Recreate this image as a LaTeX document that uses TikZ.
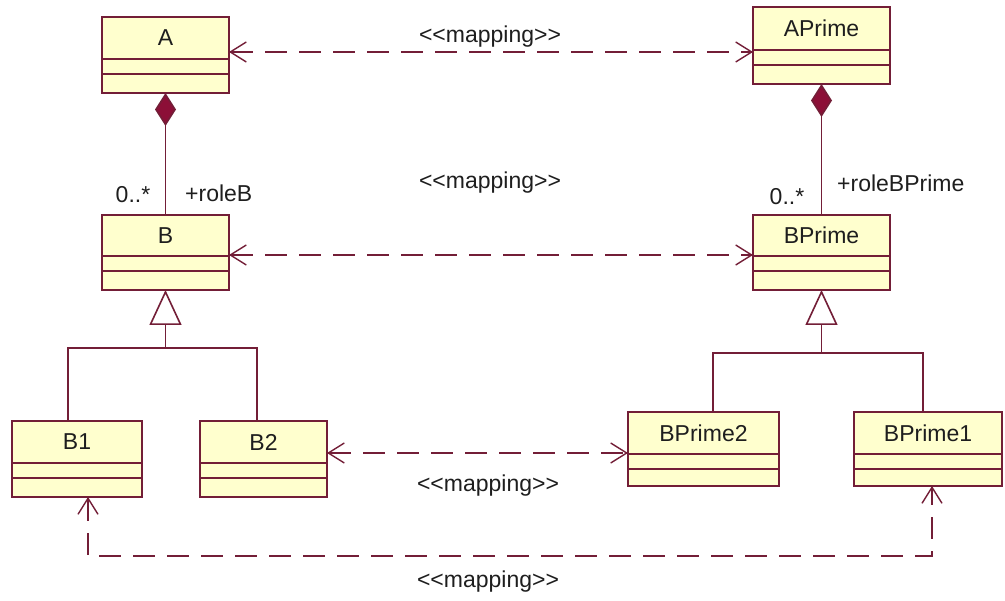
\documentclass[tikz,border=0pt]{standalone}
\usepackage{fontspec}
\setmainfont{Liberation Sans}[Ligatures=TeXOff]
\usetikzlibrary{arrows.meta,calc}
\definecolor{umlline}{RGB}{115,30,55}
\definecolor{umlfill}{RGB}{255,255,206}
\definecolor{umldiam}{RGB}{140,15,55}
\definecolor{umltext}{RGB}{30,30,30}
\tikzset{
  classbody/.style={draw=umlline, fill=umlfill, line width=1.6pt, rectangle, inner sep=0pt, outer sep=0pt},
  classname/.style={font=\fontsize{23}{26}\selectfont, text=umltext, inner sep=0pt},
  umlbox/.style={draw=umlline, line width=1.6pt},
  lbl/.style={font=\fontsize{23}{26}\selectfont, text=umltext, inner sep=0pt},
  mapping/.style={draw=umlline, line width=1.4pt, dash pattern=on 22pt off 12pt,
    {Straight Barb[length=16pt,width=20pt]}-{Straight Barb[length=16pt,width=20pt]}},
  comp/.style={umlbox, -{Diamond[length=33pt,width=21pt,fill=umldiam]}},
  gen/.style={umlbox, -{Triangle[fill=white,length=35pt,width=32pt]}}
}
\newcommand\classbox[7]{%
  \node[classbody, minimum width=#4pt, minimum height=#5pt, anchor=north west] (#1) at (#2,#3) {};
  \node[classname] (#1-name) at ($(#1.north)+(0,{#6/2})$) {#7};
  \draw[umlbox] ($(#1.north west)+(0,#6)$) -- ($(#1.north east)+(0,#6)$);
  \draw[umlbox] ($(#1.north west)+(0,{#6+15})$) -- ($(#1.north east)+(0,{#6+15})$);
}
\newcommand\mapstereo{<\kern0pt<mapping>\kern0pt>}
\begin{document}
\begin{tikzpicture}[x=1pt,y=-1pt]
\useasboundingbox[fill=white] (0,0) rectangle (1005,601);

% classes
\classbox{A}{102}{17}{127}{76}{42}{A}
\classbox{AP}{753}{7}{137}{77}{43}{APrime}
\classbox{B}{102}{215}{127}{75}{41}{B}
\classbox{BP}{753}{215}{137}{75}{41}{BPrime}
\classbox{B1}{12}{421}{130}{76}{42}{B1}
\classbox{B2}{200}{421}{127}{76}{42}{B2}
\classbox{BP2}{628}{412}{151}{74}{42}{BPrime2}
\classbox{BP1}{854}{412}{148}{74}{42}{BPrime1}

% composition
\draw[comp] (B.north) -- (A.south);
\draw[comp] (BP.north) -- (AP.south);
\node[lbl, anchor=base] (mB) at (133,203) {0..*};
\node[lbl, anchor=base west] (rB) at (185,202) {+roleB};
\node[lbl, anchor=base] (mBP) at (787,205) {0..*};
\node[lbl, anchor=base west] (rBP) at (837,192) {+roleBPrime};

% generalization
\coordinate (gB) at (165.5,348);
\coordinate (gBP) at (821.5,353);
\draw[umlbox] ($(B1.north west)+(56,0)$) |- (gB) -| ($(B2.north west)+(57,0)$);
\draw[gen] (gB) -- (B.south);
\draw[umlbox] ($(BP2.north west)+(85,0)$) |- (gBP) -| ($(BP1.north west)+(69,0)$);
\draw[gen] (gBP) -- (BP.south);

% mappings
\draw[mapping] ($(A.north east)+(0,35)$) -- ($(AP.north west)+(0,45)$);
\node[lbl, anchor=base] (m1) at (490,43) {\mapstereo};
\draw[mapping] ($(B.north east)+(0,40)$) -- ($(BP.north west)+(0,40)$);
\node[lbl, anchor=base] (m2) at (490,189) {\mapstereo};
\draw[mapping] ($(B2.north east)+(0,32)$) -- ($(BP2.north west)+(0,41)$);
\node[lbl, anchor=base] (m3) at (488,492) {\mapstereo};
\coordinate (bl) at (88,556);
\coordinate (br) at (932,556);
\draw[mapping] ($(B1.south west)+(76,0)$) -- (bl) -- (br) -- ($(BP1.south west)+(78,0)$);
\node[lbl, anchor=base] (m4) at (488,587) {\mapstereo};
\end{tikzpicture}
\end{document}
